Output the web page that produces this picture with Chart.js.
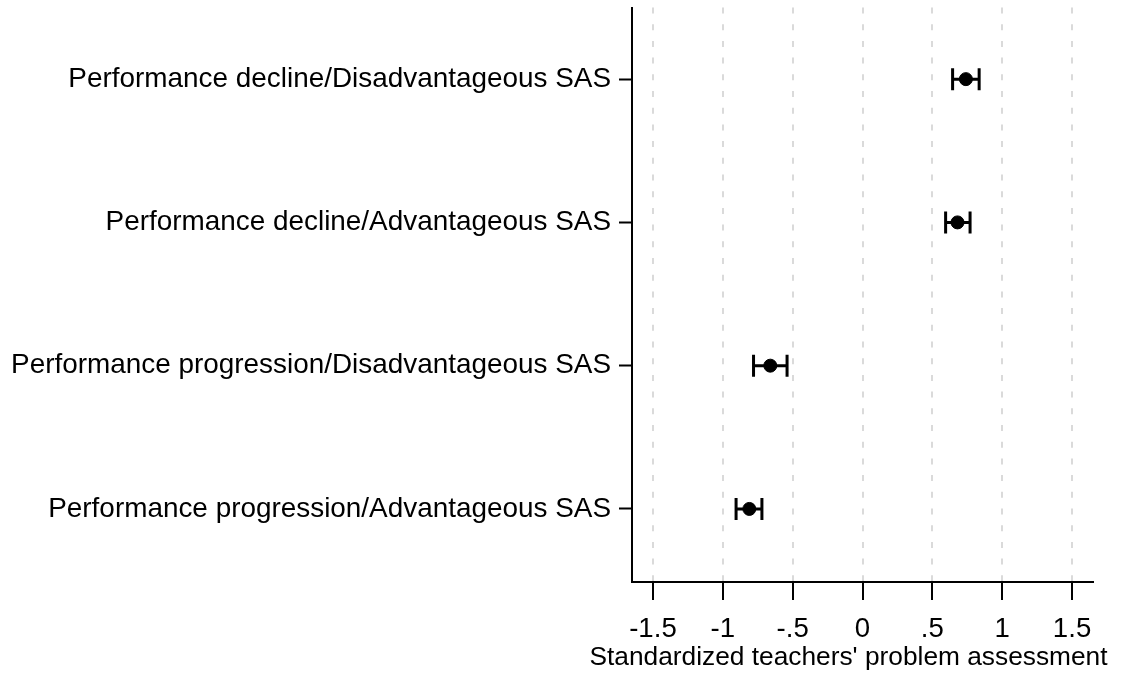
<!DOCTYPE html>
<html>
<head>
<meta charset="utf-8">
<script src="https://cdn.jsdelivr.net/npm/chart.js@4"></script>
<style>
  html, body { margin: 0; padding: 0; background: #fff; }
  #wrap { width: 1141px; height: 674px; }
</style>
</head>
<body>
<div id="wrap"><canvas id="myChart" width="1141" height="674"></canvas></div>
<script>
const categories = [
  'Performance decline/Disadvantageous SAS',
  'Performance decline/Advantageous SAS',
  'Performance progression/Disadvantageous SAS',
  'Performance progression/Advantageous SAS'
];
const estimates = [0.74, 0.68, -0.66, -0.81];
const ciLow = [0.645, 0.595, -0.78, -0.905];
const ciHigh = [0.835, 0.77, -0.54, -0.72];
const xTicks = [-1.5, -1, -0.5, 0, 0.5, 1, 1.5];
const xTickLabels = ['-1.5', '-1', '-.5', '0', '.5', '1', '1.5'];
const xTitle = "Standardized teachers' problem assessment";

// top row gets the highest y position
const rowPos = categories.map((c, i) => categories.length - i);

const fontFamily = "'Liberation Sans', Arial, sans-serif";
const font = { family: fontFamily, size: 27.6 };

const errorBars = {
  id: 'errorBars',
  afterDatasetsDraw(chart) {
    const { ctx, scales: { x, y } } = chart;
    ctx.save();
    ctx.strokeStyle = '#000';
    ctx.lineWidth = 3;
    ctx.lineCap = 'butt';
    categories.forEach((c, i) => {
      const py = y.getPixelForValue(rowPos[i]);
      const x0 = x.getPixelForValue(ciLow[i]);
      const x1 = x.getPixelForValue(ciHigh[i]);
      ctx.beginPath();
      ctx.moveTo(x0, py); ctx.lineTo(x1, py);
      ctx.moveTo(x0, py - 11); ctx.lineTo(x0, py + 11);
      ctx.moveTo(x1, py - 11); ctx.lineTo(x1, py + 11);
      ctx.stroke();
    });
    ctx.restore();
  }
};

// the scale title gets squeezed to the axis width, so draw it freely
const axisTitle = {
  id: 'axisTitle',
  afterDraw(chart) {
    const { ctx, scales: { x } } = chart;
    ctx.save();
    ctx.fillStyle = '#000';
    ctx.font = '26.3px ' + fontFamily;
    ctx.textAlign = 'center';
    ctx.textBaseline = 'middle';
    ctx.fillText(xTitle, (x.left + x.right) / 2 - 14, x.bottom - 16);
    ctx.restore();
  }
};

new Chart(document.getElementById('myChart'), {
  type: 'scatter',
  data: {
    datasets: [{
      data: estimates.map((v, i) => ({ x: v, y: rowPos[i] })),
      backgroundColor: '#000',
      borderColor: '#000',
      pointRadius: 6.5,
      pointHoverRadius: 6.5
    }]
  },
  options: {
    responsive: false,
    animation: false,
    layout: { padding: { top: 5, right: 48, left: 0, bottom: 0 } },
    plugins: { legend: { display: false }, tooltip: { enabled: false } },
    scales: {
      x: {
        type: 'linear',
        min: -1.65,
        max: 1.65,
        afterBuildTicks: (axis) => { axis.ticks = xTicks.map(v => ({ value: v })); },
        afterFit: (axis) => { axis.height = 92; axis.paddingLeft = 0; axis.paddingRight = 0; },
        ticks: {
          color: '#000',
          font: font,
          padding: 13,
          maxRotation: 0,
          callback: (v) => xTickLabels[xTicks.indexOf(v)]
        },
        grid: {
          color: '#dadada',
          lineWidth: 2,
          tickLength: 18,
          tickColor: '#000',
          tickWidth: 2
        },
        border: { color: '#000', width: 2, dash: [6, 10.7] }
      },
      y: {
        type: 'linear',
        min: 0.49,
        max: 4.5,
        afterBuildTicks: (axis) => { axis.ticks = rowPos.map(v => ({ value: v })); },
        afterFit: (axis) => { axis.width = 632; axis.paddingTop = 0; axis.paddingBottom = 0; },
        ticks: {
          color: '#000',
          font: { family: fontFamily, size: 27.9 },
          padding: 8,
          callback: (v) => categories[rowPos.indexOf(v)]
        },
        grid: {
          drawOnChartArea: false,
          tickLength: 13,
          tickColor: '#000',
          tickWidth: 2
        },
        border: { color: '#000', width: 2 }
      }
    }
  },
  plugins: [errorBars, axisTitle]
});
</script>
</body>
</html>
